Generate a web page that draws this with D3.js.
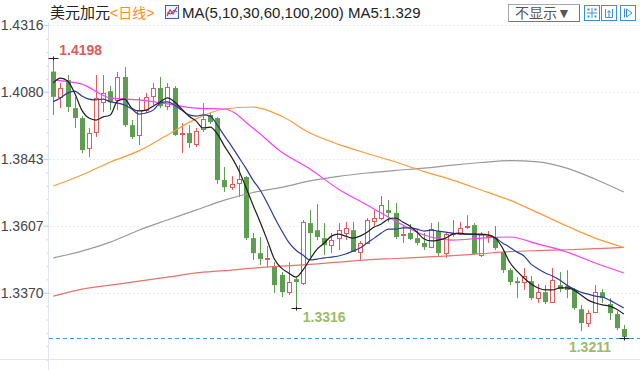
<!DOCTYPE html>
<html><head><meta charset="utf-8">
<script src="https://cdn.jsdelivr.net/npm/d3@7"></script>
<style>
html,body{margin:0;padding:0;background:#fff;}
svg{display:block;font-family:"Liberation Sans",Arial,"Noto Sans CJK SC",sans-serif;}
</style></head><body>
<svg id="c" width="640" height="370"></svg>
<script>
// ---- data ----
const opens = [1.4151,1.4061,1.4121,1.4022,1.3987,1.3881,1.3938,1.4044,1.4082,1.4051,
1.4132,1.3962,1.3927,1.4015,1.4065,1.4093,1.4029,1.4093,1.3931,1.3934,
1.3895,1.3948,1.3998,1.3987,1.3768,1.3743,1.3757,1.3779,1.3563,1.3510,
1.3489,1.3464,1.3433,1.3372,1.3418,1.3404,1.3616,1.3591,1.3563,1.3538,
1.3563,1.3581,1.3591,1.3514,1.3546,1.3623,1.3634,1.3662,1.3652,1.3574,
1.3581,1.3563,1.3546,1.3531,1.3588,1.3510,1.3577,1.3581,1.3602,1.3609,
1.3503,1.3567,1.3567,1.3514,1.3450,1.3411,1.3408,1.3411,1.3351,1.3372,
1.3337,1.3397,1.3394,1.3380,1.3312,1.3263,1.3302,1.3372,1.3330,1.3295,
1.3242];
const highs = [1.4198,1.4111,1.4139,1.4061,1.3994,1.3952,1.4139,1.4139,1.4100,1.4150,
1.4167,1.3980,1.4061,1.4075,1.4111,1.4132,1.4111,1.4100,1.3969,1.3962,
1.3952,1.4040,1.4005,1.3991,1.3814,1.3782,1.3821,1.3782,1.3581,1.3567,
1.3535,1.3478,1.3443,1.3478,1.3425,1.3627,1.3662,1.3683,1.3616,1.3581,
1.3616,1.3620,1.3620,1.3553,1.3634,1.3662,1.3712,1.3697,1.3687,1.3609,
1.3613,1.3591,1.3581,1.3616,1.3620,1.3584,1.3627,1.3620,1.3644,1.3616,
1.3584,1.3588,1.3606,1.3521,1.3457,1.3425,1.3457,1.3429,1.3401,1.3397,
1.3457,1.3443,1.3450,1.3387,1.3327,1.3309,1.3397,1.3383,1.3351,1.3305,
1.3256];
const lows = [1.3998,1.4022,1.4008,1.3952,1.3863,1.3849,1.3920,1.4008,1.4015,1.4015,
1.3955,1.3913,1.3892,1.4005,1.4033,1.4022,1.4015,1.3924,1.3863,1.3881,
1.3885,1.3938,1.3966,1.3754,1.3726,1.3733,1.3708,1.3556,1.3486,1.3468,
1.3461,1.3369,1.3355,1.3362,1.3316,1.3397,1.3496,1.3556,1.3503,1.3510,
1.3521,1.3556,1.3514,1.3486,1.3542,1.3606,1.3627,1.3620,1.3560,1.3546,
1.3556,1.3538,1.3521,1.3528,1.3500,1.3493,1.3567,1.3574,1.3595,1.3503,
1.3496,1.3546,1.3521,1.3440,1.3397,1.3351,1.3380,1.3344,1.3334,1.3330,
1.3334,1.3372,1.3351,1.3309,1.3235,1.3249,1.3298,1.3334,1.3274,1.3238,
1.3211];
const closes = [1.4062,1.4093,1.4026,1.3987,1.3874,1.3934,1.4058,1.4075,1.4044,1.4132,
1.3962,1.3920,1.4015,1.4061,1.4093,1.4029,1.4097,1.3927,1.3936,1.3899,
1.3941,1.3984,1.3973,1.3768,1.3743,1.3754,1.3772,1.3563,1.3510,1.3489,
1.3493,1.3397,1.3372,1.3408,1.3408,1.3620,1.3581,1.3567,1.3538,1.3556,
1.3591,1.3599,1.3514,1.3546,1.3627,1.3634,1.3680,1.3652,1.3567,1.3579,
1.3560,1.3546,1.3531,1.3595,1.3510,1.3577,1.3581,1.3599,1.3606,1.3507,
1.3577,1.3570,1.3528,1.3450,1.3408,1.3404,1.3429,1.3351,1.3372,1.3337,
1.3415,1.3383,1.3380,1.3316,1.3263,1.3298,1.3372,1.3351,1.3298,1.3245,
1.3214];
const ma5 = [1.4111,1.4128,1.4118,1.4075,1.4015,1.3987,1.3980,1.3991,1.3998,1.4047,
1.4054,1.4022,1.4012,1.4015,1.4029,1.4044,1.4058,1.4044,1.4019,1.3994,
1.3977,1.3952,1.3955,1.3931,1.3888,1.3849,1.3803,1.3743,1.3680,1.3620,
1.3556,1.3489,1.3457,1.3440,1.3425,1.3450,1.3489,1.3524,1.3546,1.3570,
1.3577,1.3570,1.3563,1.3570,1.3584,1.3602,1.3613,1.3630,1.3634,1.3620,
1.3606,1.3584,1.3560,1.3553,1.3556,1.3563,1.3577,1.3581,1.3577,1.3577,
1.3577,1.3574,1.3563,1.3528,1.3478,1.3447,1.3422,1.3401,1.3387,1.3380,
1.3380,1.3387,1.3387,1.3380,1.3362,1.3344,1.3334,1.3327,1.3323,1.3312,
1.3295];
const ma10 = [1.4045,1.4058,1.4075,1.4082,1.4065,1.4054,1.4051,1.4054,1.4044,1.4040,
1.4033,1.4019,1.4001,1.4005,1.4015,1.4040,1.4044,1.4033,1.4015,1.3998,
1.3994,1.3998,1.3994,1.3962,1.3924,1.3888,1.3849,1.3810,1.3768,1.3733,
1.3687,1.3637,1.3591,1.3549,1.3521,1.3503,1.3486,1.3489,1.3493,1.3496,
1.3500,1.3507,1.3517,1.3528,1.3546,1.3563,1.3581,1.3595,1.3595,1.3599,
1.3599,1.3595,1.3588,1.3591,1.3588,1.3584,1.3581,1.3577,1.3577,1.3577,
1.3574,1.3574,1.3563,1.3546,1.3531,1.3514,1.3500,1.3471,1.3454,1.3440,
1.3429,1.3415,1.3397,1.3383,1.3372,1.3365,1.3358,1.3355,1.3344,1.3330,
1.3316];
const maIdx = [0,4,8,12,16,20,24,28,32,36,40,44,48,52,56,60,64,68,72,76,80];
const ma30 = [1.4121,1.4107,1.4058,1.4051,1.4037,1.4022,1.4019,1.3952,1.3867,1.3807,1.3736,1.3680,1.3623,1.3574,1.3556,1.3563,1.3567,1.3542,1.3514,1.3475,1.3440];
const ma60 = [1.3747,1.3786,1.3832,1.3871,1.3927,1.3984,1.4019,1.4026,1.3994,1.3934,1.3894,1.3862,1.3832,1.3798,1.3768,1.3733,1.3697,1.3652,1.3606,1.3563,1.3530];
const ma100 = [1.3493,1.3517,1.3549,1.3591,1.3627,1.3662,1.3697,1.3724,1.3742,1.3765,1.3781,1.3793,1.3802,1.3810,1.3821,1.3830,1.3837,1.3832,1.3810,1.3771,1.3726];
const ma200 = [1.3358,1.3383,1.3397,1.3411,1.3425,1.3440,1.3448,1.3457,1.3464,1.3470,1.3478,1.3486,1.3491,1.3496,1.3501,1.3508,1.3515,1.3519,1.3522,1.3526,1.3530];
const yTicks = [1.4316,1.4080,1.3843,1.3607,1.3370];
const yDomain = [1.3134,1.4316];
const titleName = "美元加元";
const titlePeriod = "<日线>";
const titleMA = "MA(5,10,30,60,100,200) MA5:1.329";
const btnLabel = "不显示▼";

// ---- drawing ----
const svg = d3.select('#c');
const y = d3.scaleLinear().domain(yDomain).range([359.6, 24.9]);
const x = d3.scaleLinear().domain([0, opens.length - 1]).range([53.3, 623.8]);
const GREEN = '#5e9e50', RED = '#e25a5a';

// grid
svg.append('g').selectAll('line').data(yTicks).join('line')
  .attr('x1', 49).attr('x2', 640)
  .attr('y1', d => Math.round(y(d)) + 0.5).attr('y2', d => Math.round(y(d)) + 0.5)
  .attr('stroke', '#e9ecf1').attr('stroke-dasharray', '2,2');

// bottom line and axis line
svg.append('line').attr('x1', 0).attr('x2', 640).attr('y1', 359.5).attr('y2', 359.5).attr('stroke', '#e2e7ee');
svg.append('line').attr('x1', 48.5).attr('x2', 48.5).attr('y1', 22).attr('y2', 370).attr('stroke', '#dfe6ef');

// minor ticks
const minorStep = (yTicks[0] - yTicks[1]) / 5;
const minor = d3.range(0, 26).map(k => yDomain[0] + k * minorStep);
const minorAxis = d3.axisLeft(y).tickValues(minor).tickSize(2).tickFormat('');
const gMinor = svg.append('g').attr('transform', 'translate(48.5,0)').call(minorAxis);
gMinor.select('.domain').remove();
gMinor.selectAll('line').attr('stroke', '#c9d2de');

const axis = d3.axisLeft(y).tickValues(yTicks).tickSize(5).tickPadding(0).tickFormat(d3.format('.4f'));
const gA = svg.append('g').attr('transform', 'translate(48.5,0)').call(axis);
gA.select('.domain').remove();
gA.selectAll('line').attr('stroke', '#c9d2de');
gA.selectAll('text').attr('font-size', 14).attr('fill', '#454545')
  .attr('font-family', '"Liberation Sans",Arial,sans-serif');

// MA lines
const lineFull = arr => d3.line().x((d, i) => x(i)).y(d => y(d)).curve(d3.curveMonotoneX)(arr);
const lineIdx = arr => d3.line().x((d, i) => x(maIdx[i])).y(d => y(d)).curve(d3.curveMonotoneX)(arr);
const maG = svg.append('g').attr('fill', 'none').attr('stroke-width', 1.2);
maG.append('path').attr('d', lineIdx(ma200)).attr('stroke', '#e8736c');
maG.append('path').attr('d', lineIdx(ma100)).attr('stroke', '#9a9a9a');
maG.append('path').attr('d', lineIdx(ma60)).attr('stroke', '#ff9a3c');
maG.append('path').attr('d', lineIdx(ma30)).attr('stroke', '#ff3cff');

// candles
const cg = svg.append('g');
opens.forEach((o, i) => {
  const c = closes[i], h = highs[i], l = lows[i];
  const cx = Math.round(x(i)) + 0.5;
  const up = c >= o;
  const col = up ? RED : GREEN;
  cg.append('line').attr('x1', cx).attr('x2', cx).attr('y1', y(h)).attr('y2', y(l)).attr('stroke', col);
  const top = y(Math.max(o, c)), bot = y(Math.min(o, c));
  if (up) {
    cg.append('rect').attr('x', cx - 2).attr('width', 4)
      .attr('y', Math.round(top) + 0.5).attr('height', Math.max(1, Math.round(bot) - Math.round(top)))
      .attr('fill', '#fff').attr('stroke', col);
  } else {
    cg.append('rect').attr('x', cx - 2.5).attr('width', 5)
      .attr('y', top).attr('height', Math.max(1, bot - top))
      .attr('fill', col);
  }
});

// short MAs on top
maG.append('path').attr('d', lineFull(ma10)).attr('stroke', '#2c3aa0');
maG.append('path').attr('d', lineFull(ma5)).attr('stroke', '#1e1e1e');
maG.raise();

// last price dashed line
const lastIdx = closes.length - 1;
const lastLow = lows[lastIdx];
svg.append('line').attr('x1', 49).attr('x2', 640)
  .attr('y1', Math.round(y(lastLow)) + 0.5).attr('y2', Math.round(y(lastLow)) + 0.5)
  .attr('stroke', '#3a9af2').attr('stroke-width', 1.2).attr('stroke-dasharray', '4,3');

// extreme markers
const hiIdx = d3.maxIndex(highs), loIdx = d3.minIndex(lows.slice(0, 60));
function marker(i, v) {
  const cx = Math.round(x(i)) + 0.5, yy = Math.round(y(v)) + 0.5;
  svg.append('line').attr('x1', cx - 5).attr('x2', cx + 5).attr('y1', yy).attr('y2', yy).attr('stroke', '#222');
  svg.append('line').attr('x1', cx).attr('x2', cx).attr('y1', yy - 2).attr('y2', yy + 2).attr('stroke', '#222');
}
marker(hiIdx, highs[hiIdx]);
marker(loIdx, lows[loIdx]);
marker(lastIdx, lastLow);
const fmt = d3.format('.4f');
svg.append('text').attr('x', x(hiIdx) + 6).attr('y', y(highs[hiIdx]) - 3)
  .attr('font-size', 14).attr('font-weight', 'bold').attr('fill', '#e05a5a').text(fmt(highs[hiIdx]));
svg.append('text').attr('x', x(loIdx) + 7).attr('y', y(lows[loIdx]) + 14)
  .attr('font-size', 14).attr('font-weight', 'bold').attr('fill', '#9cbb6a').text(fmt(lows[loIdx]));
svg.append('text').attr('x', 611).attr('text-anchor', 'end').attr('y', y(lastLow) + 14)
  .attr('font-size', 14).attr('font-weight', 'bold').attr('fill', '#9cbb6a').text(fmt(lastLow));

// header
const hdr = svg.append('g');
const t = hdr.append('text').attr('x', 50).attr('y', 18).attr('font-size', 15);
t.append('tspan').attr('fill', '#222').text(titleName);
t.append('tspan').attr('fill', '#ff8c1a').attr('font-size', 14).text(titlePeriod);
// small MA icon
hdr.append('rect').attr('x', 165.5).attr('y', 5.5).attr('width', 13).attr('height', 13)
  .attr('fill', '#eef2fb').attr('stroke', '#4060b8');
hdr.append('polyline').attr('points', '167,16 170,10 173,14 177,7').attr('fill', 'none').attr('stroke', '#e03030').attr('stroke-width', 1.2);
hdr.append('polyline').attr('points', '167,13 171,14 174,10 177,12').attr('fill', 'none').attr('stroke', '#3050c0').attr('stroke-width', 1);
hdr.append('text').attr('x', 182).attr('y', 18).attr('font-size', 15).attr('fill', '#222').text(titleMA);

// right controls
hdr.append('rect').attr('x', 508.5).attr('y', 4.5).attr('width', 71).attr('height', 17)
  .attr('fill', '#fff').attr('stroke', '#a8a8a8');
hdr.append('line').attr('x1', 509).attr('x2', 580).attr('y1', 21.5).attr('y2', 21.5).attr('stroke', '#777');
hdr.append('line').attr('x1', 579.5).attr('x2', 579.5).attr('y1', 5).attr('y2', 22).attr('stroke', '#777');
hdr.append('text').attr('x', 515).attr('y', 18).attr('font-size', 14).attr('fill', '#555').text(btnLabel);
const bx = [584, 601, 620];
bx.forEach((b, k) => {
  const g = hdr.append('g').attr('transform', `translate(${b},5)`);
  g.append('rect').attr('x', 0.5).attr('y', 0.5).attr('width', 15).attr('height', 15)
    .attr('fill', '#fff').attr('stroke', '#3c8fe0');
  const s = '#3c8fe0';
  if (k === 0) {
    g.append('line').attr('x1', 8).attr('x2', 8).attr('y1', 3).attr('y2', 13).attr('stroke', s);
    g.append('line').attr('x1', 3).attr('x2', 13).attr('y1', 8).attr('y2', 8).attr('stroke', s);
    [[4.5,4.5],[11.5,4.5],[4.5,11.5],[11.5,11.5]].forEach(p => g.append('rect').attr('x', p[0]-1).attr('y', p[1]-1).attr('width', 2).attr('height', 2).attr('fill', s));
  } else if (k === 1) {
    g.append('path').attr('d', 'M4.5,4 V12.5 H11.5 V4 M8,12.5 V6 M6.5,7.5 L8,5.5 L9.5,7.5').attr('fill', 'none').attr('stroke', s);
  } else {
    g.append('path').attr('d', 'M4.5,3.5 V12.5 M6.5,4 L12,8 L6.5,12 Z').attr('fill', 'none').attr('stroke', s);
  }
});
</script>
</body></html>
